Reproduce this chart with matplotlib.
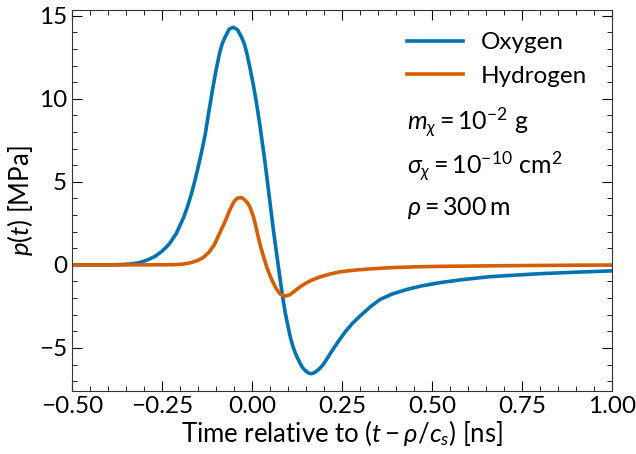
import matplotlib
matplotlib.use('Agg')
import matplotlib.pyplot as plt
from matplotlib.ticker import AutoMinorLocator, MultipleLocator

plt.rcParams['font.family'] = ['Lato', 'DejaVu Sans']
plt.rcParams['mathtext.fontset'] = 'custom'
plt.rcParams['mathtext.rm'] = 'Lato'
plt.rcParams['mathtext.it'] = 'Lato:italic'
plt.rcParams['mathtext.bf'] = 'Lato:bold'

# pressure pulse, time in ns, pressure in MPa
t_oxygen = [-0.50, -0.45, -0.40, -0.36, -0.33, -0.31, -0.29, -0.27, -0.25, -0.23,
            -0.21, -0.19, -0.18, -0.17, -0.16, -0.15, -0.14, -0.13, -0.12, -0.11,
            -0.10, -0.09, -0.083, -0.075, -0.063, -0.052, -0.04, -0.03, -0.022, -0.015,
            -0.006, 0.004, 0.012, 0.022, 0.029, 0.036, 0.042, 0.048, 0.054, 0.06,
            0.066, 0.072, 0.078, 0.085, 0.092, 0.10, 0.107, 0.115, 0.124, 0.133,
            0.141, 0.15, 0.158, 0.166, 0.175, 0.185, 0.196, 0.207, 0.22, 0.24,
            0.26, 0.28, 0.30, 0.33, 0.356, 0.39, 0.43, 0.47, 0.522, 0.58,
            0.661, 0.73, 0.80, 0.90, 1.00]
p_oxygen = [0, 0, 0, 0.02, 0.07, 0.15, 0.3, 0.5, 0.82, 1.25,
            1.9, 2.85, 3.45, 4.15, 4.95, 5.85, 6.8, 7.85, 9.2, 10.5,
            11.7, 12.75, 13.3, 13.7, 14.2, 14.3, 14.15, 13.75, 13.35, 12.8,
            11.9, 10.8, 9.8, 8.4, 7.3, 6.2, 5.15, 4.1, 3.05, 2.0,
            1.05, 0.1, -0.85, -1.9, -2.85, -3.7, -4.4, -5.0, -5.5, -5.9,
            -6.2, -6.4, -6.52, -6.55, -6.47, -6.3, -6.05, -5.7, -5.25, -4.6,
            -4.0, -3.5, -3.08, -2.5, -2.08, -1.75, -1.48, -1.27, -1.07, -0.9,
            -0.71, -0.62, -0.53, -0.44, -0.36]

t_hydrogen = [-0.50, -0.30, -0.22, -0.19, -0.17, -0.15, -0.135, -0.12, -0.105, -0.09,
              -0.075, -0.061, -0.05, -0.045, -0.04, -0.031, -0.025, -0.02, -0.013, -0.006,
              0.004, 0.013, 0.022, 0.032, 0.042, 0.053, 0.065, 0.078, 0.092, 0.105,
              0.12, 0.135, 0.152, 0.17, 0.19, 0.217, 0.244, 0.27, 0.295, 0.33,
              0.383, 0.45, 0.52, 0.614, 0.70, 0.80, 0.90, 1.00]
p_hydrogen = [0, 0, 0.01, 0.05, 0.13, 0.27, 0.45, 0.75, 1.2, 1.9,
              2.6, 3.34, 3.8, 3.93, 4.02, 4.05, 4.0, 3.9, 3.75, 3.5,
              2.9, 2.1, 1.25, 0.5, -0.2, -0.8, -1.35, -1.75, -1.88, -1.8,
              -1.55, -1.3, -1.07, -0.88, -0.72, -0.55, -0.42, -0.35, -0.3, -0.24,
              -0.17, -0.12, -0.09, -0.07, -0.05, -0.035, -0.02, -0.01]

fig = plt.figure(figsize=(6.36, 4.54), dpi=100)
fig.subplots_adjust(left=72/636, right=612/636, top=1-10/454, bottom=1-391/454)
ax = fig.add_subplot(111)

ax.plot(t_oxygen, p_oxygen, color='#0173B2', linewidth=2.6, label='Oxygen',
        solid_joinstyle='round')
ax.plot(t_hydrogen, p_hydrogen, color='#D55E00', linewidth=2.6, label='Hydrogen',
        solid_joinstyle='round')

ax.set_xlim(-0.5, 1.0)
ax.xaxis.set_major_locator(MultipleLocator(0.25))
ax.xaxis.set_minor_locator(AutoMinorLocator(5))
ax.yaxis.set_major_locator(MultipleLocator(5))
ax.yaxis.set_minor_locator(AutoMinorLocator(5))
ax.tick_params(which='both', direction='in', top=True, right=True, labelsize=17.5)
ax.tick_params(which='major', length=7)
ax.tick_params(which='minor', length=3.5)
for s in ax.spines.values():
    s.set_color('#333333')

ax.set_xlabel(r'Time relative to $(t-\rho/c_s)$ [ns]', fontsize=18.5, labelpad=1)
ax.set_ylabel(r'$p(t)$ [MPa]', fontsize=18.5, labelpad=3)

ax.legend(loc='upper left', bbox_to_anchor=(0.62, 0.942), frameon=False, fontsize=17.5,
          handlelength=2.3, handletextpad=0.75, labelspacing=0.52,
          borderpad=0, borderaxespad=0)

ax.text(0.62, 0.685, r'$m_\chi = 10^{-2}\ \mathrm{g}$', transform=ax.transAxes, fontsize=18)
ax.text(0.62, 0.570, r'$\sigma_\chi = 10^{-10}\ \mathrm{cm}^2$', transform=ax.transAxes, fontsize=18)
ax.text(0.62, 0.462, r'$\rho = 300\,\mathrm{m}$', transform=ax.transAxes, fontsize=18)

fig.savefig('out.png', dpi=100)
